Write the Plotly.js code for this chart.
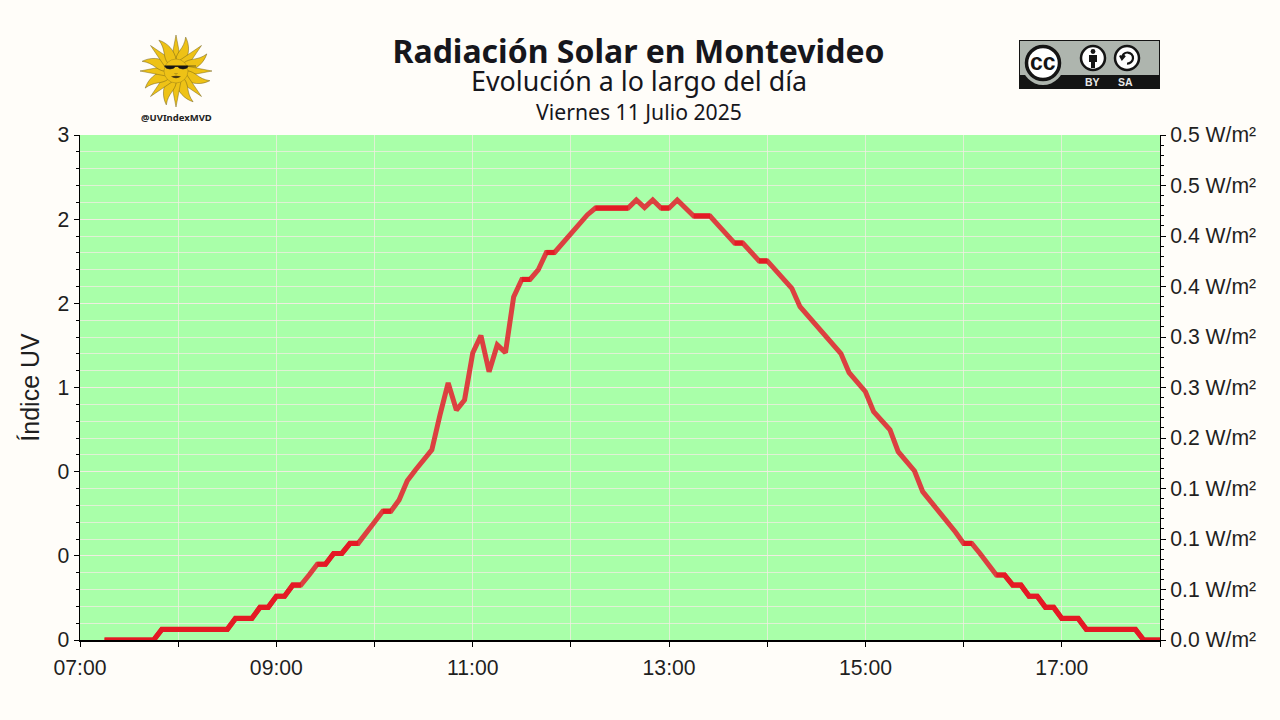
<!DOCTYPE html>
<html><head><meta charset="utf-8">
<script src="https://cdn.plot.ly/plotly-3.0.1.min.js"></script>
<style>html,body{margin:0;padding:0;background:#fffdf9}#c{width:1280px;height:720px}</style>
</head><body><div id="c"></div>
<script>
const times = ["07:15","07:20","07:25","07:30","07:35","07:40","07:45","07:50","07:55","08:00","08:05","08:10","08:15","08:20","08:25","08:30","08:35","08:40","08:45","08:50","08:55","09:00","09:05","09:10","09:15","09:20","09:25","09:30","09:35","09:40","09:45","09:50","09:55","10:00","10:05","10:10","10:15","10:20","10:25","10:30","10:35","10:40","10:45","10:50","10:55","11:00","11:05","11:10","11:15","11:20","11:25","11:30","11:35","11:40","11:45","11:50","11:55","12:00","12:05","12:10","12:15","12:20","12:25","12:30","12:35","12:40","12:45","12:50","12:55","13:00","13:05","13:10","13:15","13:20","13:25","13:30","13:35","13:40","13:45","13:50","13:55","14:00","14:05","14:10","14:15","14:20","14:25","14:30","14:35","14:40","14:45","14:50","14:55","15:00","15:05","15:10","15:15","15:20","15:25","15:30","15:35","15:40","15:45","15:50","15:55","16:00","16:05","16:10","16:15","16:20","16:25","16:30","16:35","16:40","16:45","16:50","16:55","17:00","17:05","17:10","17:15","17:20","17:25","17:30","17:35","17:40","17:45","17:50","17:55","18:00"];
const uvIndex = [0,0,0,0,0,0,0,0.063,0.063,0.063,0.063,0.063,0.063,0.063,0.063,0.063,0.128,0.128,0.128,0.194,0.194,0.260,0.260,0.326,0.326,0.386,0.450,0.450,0.514,0.514,0.574,0.574,0.642,0.701,0.765,0.765,0.832,0.946,1.010,1.069,1.129,1.337,1.527,1.366,1.426,1.705,1.809,1.594,1.753,1.707,2.038,2.142,2.142,2.198,2.302,2.302,2.358,2.415,2.471,2.525,2.566,2.566,2.566,2.566,2.566,2.614,2.569,2.614,2.566,2.566,2.614,2.566,2.519,2.519,2.519,2.465,2.406,2.358,2.358,2.305,2.252,2.252,2.198,2.145,2.089,1.980,1.925,1.871,1.815,1.758,1.702,1.588,1.530,1.475,1.356,1.301,1.248,1.119,1.060,1.004,0.881,0.823,0.763,0.701,0.642,0.574,0.574,0.514,0.450,0.386,0.386,0.326,0.326,0.260,0.260,0.194,0.194,0.128,0.128,0.128,0.063,0.063,0.063,0.063,0.063,0.063,0.063,0,0,0];
const hourTicks = ["07:00","08:00","09:00","10:00","11:00","12:00","13:00","14:00","15:00","16:00","17:00","18:00"];
const hourLabels = ["07:00","","09:00","","11:00","","13:00","","15:00","","17:00",""];
const uvTicks = [0,0.5,1,1.5,2,2.5,3];
const uvLabels = ["0","0","0","1","2","2","3"];
const irrTicks = [0,0.05,0.1,0.15,0.2,0.25,0.3,0.35,0.4,0.45,0.5];
const irrLabels = ["0.0 W/m²","0.1 W/m²","0.1 W/m²","0.1 W/m²","0.2 W/m²","0.3 W/m²","0.3 W/m²","0.4 W/m²","0.4 W/m²","0.5 W/m²","0.5 W/m²"];
const titleText = "Radiación Solar en Montevideo";
const subtitleText = "Evolución a lo largo del día";
const dateText = "Viernes 11 Julio 2025";

const day = t => "2025-07-11 " + t;
const X = times.map(day);
// solid red where the reading holds steady between two samples
const steady = uvIndex.map((v,i)=> (v===uvIndex[i-1]||v===uvIndex[i+1]) ? v : null);

const px = p => (p-80)/1080, py = p => (640-p)/505;
const TICK = "#1f1f1f";

function rays(){
  let s="";
  for(let i=0;i<16;i++){
    const a=i*22.5;
    const d = i%2===0 ? "M-5,-10 L0,-36 L5,-10 Z" : "M-4.5,-10 C-7,-19 -1,-23 -4,-35 C3,-29 6.5,-20 4.5,-10 Z";
    s+=`<path transform="rotate(${a})" d="${d}" fill="#eec216" stroke="#6e5c18" stroke-width="0.45"/>`;
  }
  return s;
}
const sunSvg = `<svg xmlns="http://www.w3.org/2000/svg" width="288" height="288" viewBox="-36 -36 72 72">${rays()}
<circle r="12" fill="#eec216" stroke="#8a7418" stroke-width="0.4"/>
<path d="M-12,-5 H20 M-11,-5 L-10,-3 Q-6,-1 -2,-3 L-1,-4.5 H2 L3,-3 Q7,-1 11,-3 L12,-5Z" fill="#141414" stroke="#141414" stroke-width="0.6"/>
<path d="M-5,5.5 Q0,4 5,5.5 Q0,9 -5,5.5Z" fill="#4a3a10"/>
<path d="M-1.5,2.5 Q0,3.5 1.5,2.5" fill="none" stroke="#5a4a10" stroke-width="0.5"/>
</svg>`;
const ccSvg = `<svg xmlns="http://www.w3.org/2000/svg" width="564" height="196" viewBox="0 0 141 49">
<rect x="0.5" y="0.5" width="140" height="48" fill="#aeb5ae" stroke="#141414" stroke-width="1"/>
<rect x="0" y="35" width="141" height="14" fill="#141414"/>
<circle cx="24" cy="24" r="21" fill="#aeb5ae"/>
<circle cx="24" cy="23" r="16.5" fill="#fff" stroke="#141414" stroke-width="3.5"/>
<circle cx="74" cy="18" r="12" fill="#fff" stroke="#141414" stroke-width="2.5"/>
<circle cx="74" cy="11.5" r="2.4" fill="#141414"/>
<path d="M70,15 H78 V22 H76 V28 H72 V22 H70Z" fill="#141414"/>
<circle cx="108" cy="18" r="12" fill="#fff" stroke="#141414" stroke-width="2.5"/>
<path d="M103,18 A5.5,5.5 0 1 1 108,23.5 M101,15.5 L103,19 L106,15.5" fill="none" stroke="#141414" stroke-width="2.2"/>
</svg>`;
const uri = s => "data:image/svg+xml;charset=utf-8," + encodeURIComponent(s);

const traces = [
  {x:X,y:uvIndex,mode:"lines",line:{color:"#dc4040",width:5,shape:"linear"},cliponaxis:false,hoverinfo:"skip",showlegend:false},
  {x:X,y:steady,mode:"lines",line:{color:"#e41a24",width:5.2},cliponaxis:false,connectgaps:false,hoverinfo:"skip",showlegend:false},
  {x:[day(hourTicks[0]),day(hourTicks[11])],y:[irrTicks[0],irrTicks[10]],yaxis:"y2",mode:"lines",line:{width:0},hoverinfo:"skip",showlegend:false}
];
const GRID = "rgba(245,235,230,0.72)";
const tickFont = {family:"Liberation Sans, Arial, sans-serif",size:21.2,color:TICK};
const layout = {
  width:1280,height:720,showlegend:false,
  paper_bgcolor:"#fffdf9",plot_bgcolor:"#a9ffa9",
  margin:{l:80,r:120,t:135,b:80,pad:0},
  title:{text:titleText,x:638.5/1280,xref:"container",xanchor:"center",y:1-52/720,yref:"container",yanchor:"middle",
    font:{family:"Noto Sans, sans-serif",size:32,weight:700,color:"#16161c"}},
  xaxis:{type:"date",range:[day("07:00"),day("18:00")],tickmode:"array",tickvals:hourTicks.map(day),ticktext:hourLabels,
    ticks:"outside",ticklen:5,tickwidth:1,tickcolor:"#000",showline:true,linecolor:"#000",linewidth:1.5,ticklabelstandoff:3,
    showgrid:true,gridcolor:GRID,gridwidth:1,zeroline:false,tickfont:tickFont,tickangle:0,layer:"above traces"},
  yaxis:{range:[0,3],tickmode:"array",tickvals:uvTicks,ticktext:uvLabels,ticks:"outside",ticklen:5,tickwidth:1,tickcolor:"#000",
    showline:true,linecolor:"#000",linewidth:1.5,showgrid:true,gridcolor:GRID,gridwidth:1.2,zeroline:false,tickfont:tickFont,
    minor:{tickmode:"linear",tick0:0,dtick:0.1,ticks:"outside",ticklen:3,tickwidth:1,tickcolor:"#000",showgrid:true,gridcolor:GRID,gridwidth:1},
    title:{text:"Índice UV",font:{family:"Liberation Sans, Arial, sans-serif",size:25,color:TICK},standoff:10},layer:"above traces"},
  yaxis2:{overlaying:"y",side:"right",range:[0,0.5],tickmode:"array",tickvals:irrTicks,ticktext:irrLabels,ticks:"outside",ticklen:5,tickwidth:1,tickcolor:"#000",
    showline:true,linecolor:"#000",linewidth:1,showgrid:false,zeroline:false,tickfont:tickFont,
    minor:{tickmode:"linear",tick0:0,dtick:0.01,ticks:"outside",ticklen:3,tickwidth:1,tickcolor:"#000",showgrid:false}},
  annotations:[
    {text:subtitleText,xref:"paper",yref:"paper",x:px(638.5),y:py(81),showarrow:false,xanchor:"center",yanchor:"middle",font:{family:"Noto Sans, sans-serif",size:26.8,color:"#16161c"}},
    {text:dateText,xref:"paper",yref:"paper",x:px(638.5),y:py(112),showarrow:false,xanchor:"center",yanchor:"middle",font:{family:"Noto Sans, sans-serif",size:21.2,color:"#16161c"}},
    {text:"@UVIndexMVD",xref:"paper",yref:"paper",x:px(176),y:py(118),showarrow:false,xanchor:"center",yanchor:"middle",font:{family:"Noto Sans, sans-serif",size:9.5,weight:700,color:"#222"}},
    {text:"cc",xref:"paper",yref:"paper",x:px(1043),y:py(62),showarrow:false,xanchor:"center",yanchor:"middle",font:{family:"Liberation Sans, sans-serif",size:23,weight:700,color:"#141414"}},
    {text:"BY",xref:"paper",yref:"paper",x:px(1092.5),y:py(82),showarrow:false,xanchor:"center",yanchor:"middle",font:{family:"Liberation Sans, sans-serif",size:10.5,weight:700,color:"#e8e8e8"}},
    {text:"SA",xref:"paper",yref:"paper",x:px(1125.5),y:py(82),showarrow:false,xanchor:"center",yanchor:"middle",font:{family:"Liberation Sans, sans-serif",size:10.5,weight:700,color:"#e8e8e8"}}
  ],
  images:[
    {source:uri(sunSvg),xref:"paper",yref:"paper",x:px(140),y:py(35),sizex:72/1080,sizey:72/505,sizing:"stretch",xanchor:"left",yanchor:"top",layer:"above"},
    {source:uri(ccSvg),xref:"paper",yref:"paper",x:px(1019),y:py(40),sizex:141/1080,sizey:49/505,sizing:"stretch",xanchor:"left",yanchor:"top",layer:"above"}
  ]
};
Plotly.newPlot("c",traces,layout,{displayModeBar:false,staticPlot:true});
</script></body></html>
